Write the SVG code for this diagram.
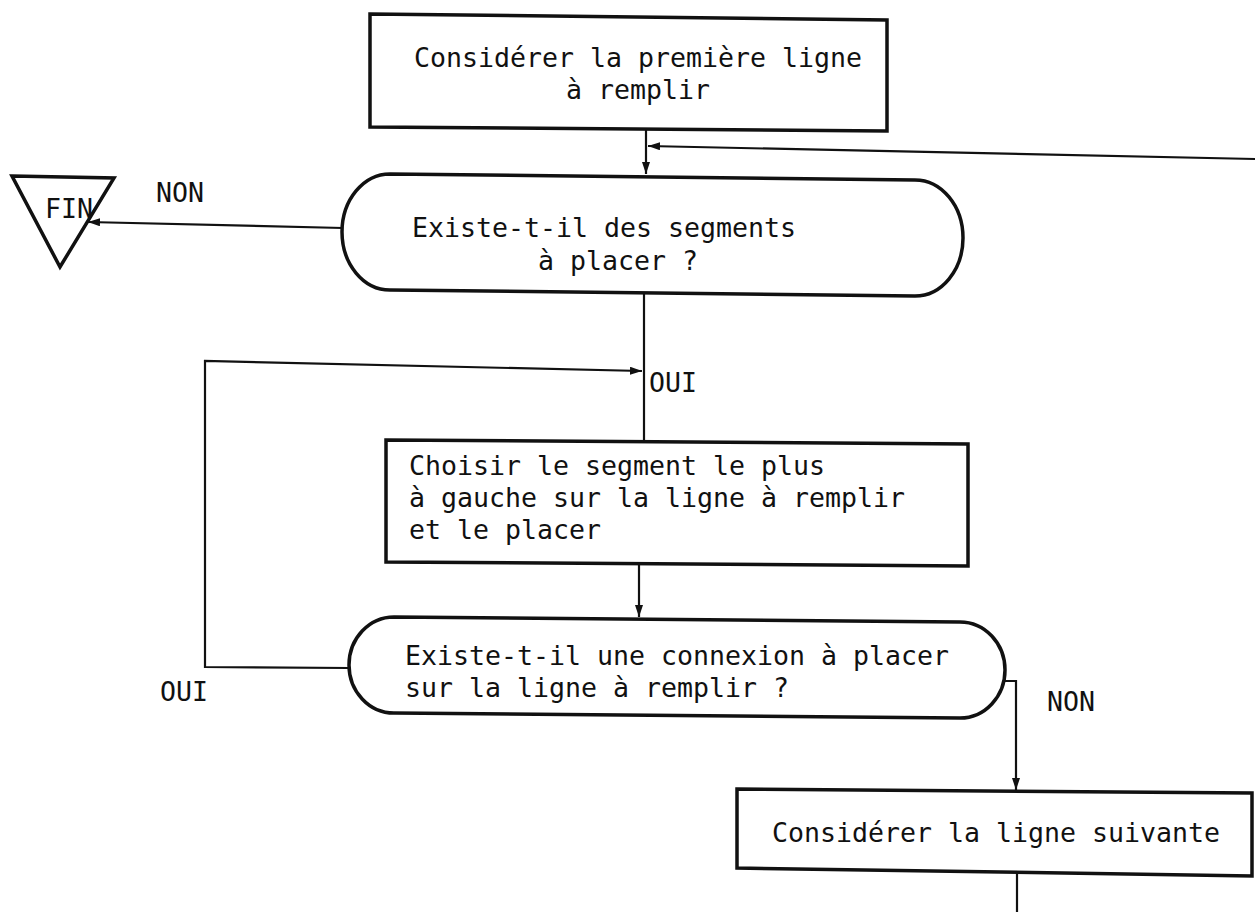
<svg xmlns="http://www.w3.org/2000/svg" width="1255" height="912" viewBox="0 0 1255 912">
  <defs>
    <style>
      .box { fill: none; stroke: #111; stroke-width: 3.5; stroke-linejoin: miter; }
      .edge { fill: none; stroke: #111; stroke-width: 2.2; }
      .lbl { font-family: "DejaVu Sans Mono", "Liberation Mono", monospace; font-size: 27px; fill: #111; }
    </style>
    <marker id="arrow" viewBox="0 0 12 8" refX="12" refY="4" markerWidth="12" markerHeight="8" markerUnits="userSpaceOnUse" orient="auto">
      <path d="M0,0 L12,4 L0,8 Z" fill="#111"/>
    </marker>
  </defs>
  <rect width="1255" height="912" fill="#fff"/>

  <!-- connectors -->
  <g id="connectors">
    <path class="edge" d="M646,130 L646,174" marker-end="url(#arrow)"/>
    <path class="edge" d="M1255,159 L648,146" marker-end="url(#arrow)"/>
    <path class="edge" d="M343,228 L88,222" marker-end="url(#arrow)"/>
    <path class="edge" d="M644,293 L644,440"/>
    <path class="edge" d="M350,668 L205,667 L205,361 L642,371" marker-end="url(#arrow)"/>
    <path class="edge" d="M639,562 L639,617" marker-end="url(#arrow)"/>
    <path class="edge" d="M1003,681 L1016,681 L1016,790" marker-end="url(#arrow)"/>
    <path class="edge" d="M1017,872 L1017,912"/>
  </g>

  <!-- start: first line -->
  <g id="n-first-line">
    <path class="box" d="M370,14 L887,20 L887,131 L370,127 Z"/>
    <text class="lbl" x="414" y="67" textLength="448" lengthAdjust="spacingAndGlyphs">Considérer la première ligne</text>
    <text class="lbl" x="566" y="99" textLength="144" lengthAdjust="spacingAndGlyphs">à remplir</text>
  </g>

  <!-- decision: segments left? -->
  <g id="n-segments">
    <path class="box" d="M390,174 L915,180 A48,58 0 0 1 915,296 L390,290 A48,58 0 0 1 390,174 Z"/>
    <text class="lbl" x="412" y="237" textLength="384" lengthAdjust="spacingAndGlyphs">Existe-t-il des segments</text>
    <text class="lbl" x="538" y="270" textLength="160" lengthAdjust="spacingAndGlyphs">à placer ?</text>
  </g>

  <!-- end -->
  <g id="n-fin">
    <path class="box" d="M12,176 L114,178 L60,267 Z" stroke-width="3"/>
    <text class="lbl" x="45" y="218" textLength="48" lengthAdjust="spacingAndGlyphs">FIN</text>
  </g>
  <text class="lbl" x="156" y="202" textLength="48" lengthAdjust="spacingAndGlyphs">NON</text>
  <text class="lbl" x="649" y="392" textLength="48" lengthAdjust="spacingAndGlyphs">OUI</text>

  <!-- choose leftmost segment -->
  <g id="n-choose">
    <path class="box" d="M386,440 L968,444 L968,566 L386,562 Z"/>
    <text class="lbl" x="409" y="475" textLength="416" lengthAdjust="spacingAndGlyphs">Choisir le segment le plus</text>
    <text class="lbl" x="409" y="507" textLength="496" lengthAdjust="spacingAndGlyphs">à gauche sur la ligne à remplir</text>
    <text class="lbl" x="409" y="539" textLength="192" lengthAdjust="spacingAndGlyphs">et le placer</text>
  </g>

  <!-- decision: connection to place? -->
  <g id="n-connexion">
    <path class="box" d="M394,617 L960,622 A45,48 0 0 1 960,718 L394,713 A45,48 0 0 1 394,617 Z"/>
    <text class="lbl" x="405" y="665" textLength="544" lengthAdjust="spacingAndGlyphs">Existe-t-il une connexion à placer</text>
    <text class="lbl" x="405" y="697" textLength="384" lengthAdjust="spacingAndGlyphs">sur la ligne à remplir ?</text>
  </g>
  <text class="lbl" x="160" y="701" textLength="48" lengthAdjust="spacingAndGlyphs">OUI</text>
  <text class="lbl" x="1047" y="711" textLength="48" lengthAdjust="spacingAndGlyphs">NON</text>

  <!-- next line -->
  <g id="n-next-line">
    <path class="box" d="M737,789 L1252,793 L1252,876 L737,868 Z"/>
    <text class="lbl" x="772" y="842" textLength="448" lengthAdjust="spacingAndGlyphs">Considérer la ligne suivante</text>
  </g>
</svg>
